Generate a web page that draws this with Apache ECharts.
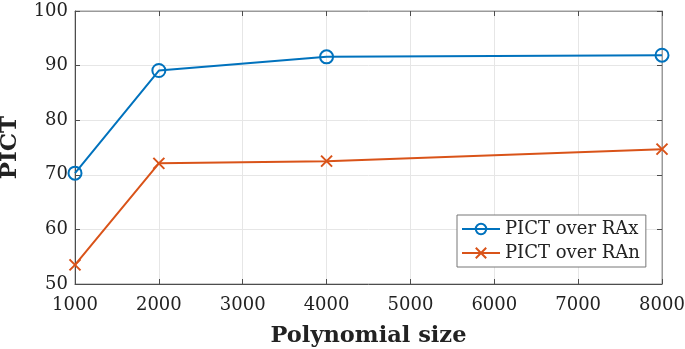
<!DOCTYPE html>
<html>
<head>
<meta charset="utf-8">
<script src="https://cdn.jsdelivr.net/npm/echarts@6/dist/echarts.min.js"></script>
<style>
  html, body { margin: 0; padding: 0; background: #fff; }
  #chart { width: 685px; height: 349px; }
</style>
</head>
<body>
<div id="chart"></div>
<script>
// values
var sizes = [1000, 2000, 4000, 8000];
var overRAx = [70.3, 89.1, 91.6, 91.9];
var overRAn = [53.5, 72.1, 72.5, 74.7];
var seriesNames = ['PICT over RAx', 'PICT over RAn'];

var font = 'DejaVu Serif';
var axisGrey = '#4d4d4d';

function pairs(xs, ys) {
    return xs.map(function (x, i) { return [x, ys[i]]; });
}

var chartDom = document.getElementById('chart');
var myChart = echarts.init(chartDom);
var option = {
    animation: false,
    grid: {
        left: 75,
        right: 23,
        top: 11,
        bottom: 65,
        outerBoundsMode: 'none',
        containLabel: false,
        show: true,
        borderColor: '#9a9a9a',
        borderWidth: 1
    },
    legend: {
        left: 457,
        top: 215,
        orient: 'vertical',
        backgroundColor: '#fff',
        borderColor: '#777',
        borderWidth: 1,
        padding: [5, 6, 5, 4],
        itemGap: 6,
        itemWidth: 38,
        itemHeight: 13,
        textStyle: { fontFamily: font, fontSize: 18, color: '#222' },
        data: seriesNames
    },
    xAxis: [{
        type: 'value',
        min: 1000,
        max: 8000,
        interval: 1000,
        name: 'Polynomial size',
        nameLocation: 'middle',
        nameGap: 41,
        nameTextStyle: { fontFamily: font, fontSize: 22.5, fontWeight: 'bold', color: '#222' },
        axisLine: { show: true, lineStyle: { color: axisGrey } },
        axisTick: { show: true, inside: true, length: 5, lineStyle: { color: axisGrey } },
        axisLabel: { fontFamily: font, fontSize: 18, color: '#222', margin: 12, formatter: function (v) { return String(v); } },
        splitLine: { show: true, lineStyle: { color: '#e6e6e6' } }
    }, {
        type: 'value',
        position: 'top',
        min: 1000,
        max: 8000,
        interval: 1000,
        axisLine: { show: true, lineStyle: { color: '#9a9a9a' } },
        axisTick: { show: true, inside: true, length: 5, lineStyle: { color: axisGrey } },
        axisLabel: { show: false },
        splitLine: { show: false }
    }],
    yAxis: [{
        type: 'value',
        min: 50,
        max: 100,
        interval: 10,
        name: 'PICT',
        nameLocation: 'middle',
        nameGap: 53,
        nameTextStyle: { fontFamily: font, fontSize: 23, fontWeight: 'bold', color: '#222' },
        axisLine: { show: true, lineStyle: { color: axisGrey } },
        axisTick: { show: true, inside: true, length: 5, lineStyle: { color: axisGrey } },
        axisLabel: { fontFamily: font, fontSize: 18, color: '#222', margin: 7 },
        splitLine: { show: true, lineStyle: { color: '#e6e6e6' } }
    }, {
        type: 'value',
        position: 'right',
        min: 50,
        max: 100,
        interval: 10,
        axisLine: { show: true, lineStyle: { color: '#9a9a9a' } },
        axisTick: { show: true, inside: true, length: 5, lineStyle: { color: axisGrey } },
        axisLabel: { show: false },
        splitLine: { show: false }
    }],
    series: [
        {
            name: seriesNames[0],
            type: 'line',
            data: pairs(sizes, overRAx),
            symbol: 'circle',
            symbolSize: 13,
            color: '#0072bd',
            lineStyle: { width: 2, color: '#0072bd' },
            itemStyle: { color: 'rgba(255,255,255,0)', borderColor: '#0072bd', borderWidth: 2 }
        },
        {
            name: seriesNames[1],
            type: 'line',
            data: pairs(sizes, overRAn),
            symbol: 'path://M0,0 L10,10 M10,0 L0,10',
            symbolSize: 11,
            color: '#d95319',
            lineStyle: { width: 2, color: '#d95319' },
            itemStyle: { color: 'none', borderColor: '#d95319', borderWidth: 2 }
        }
    ]
};
option && myChart.setOption(option);
</script>
</body>
</html>
